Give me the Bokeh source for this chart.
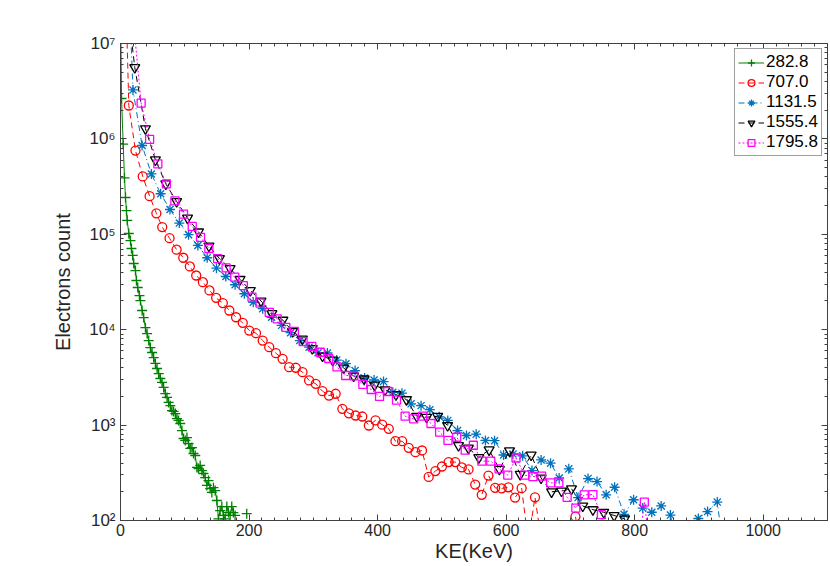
from bokeh.plotting import figure
from bokeh.models import FixedTicker, LinearAxis, LogAxis, Legend
from bokeh.embed import file_html
from bokeh.resources import INLINE

nan = float("nan")

# ---- data (keV, electron counts) ----
labels = ["282.8", "707.0", "1131.5", "1555.4", "1795.8"]

g_x = [0, 1.6, 4.2, 6.2, 7.8, 9.3, 10.4, 12.9, 15.5, 17.0, 19.0, 20.6, 23.3, 24.8, 26.8, 29.5, 31.0,
       33.6, 36.1, 38.8, 41.4, 43.9, 46.5, 49.1, 51.6, 54.3, 56.9, 59.4, 62.0, 64.6, 67.1, 69.8, 72.4,
       74.9, 77.5, 80.1, 82.6, 85.3, 87.9, 90.4, 93.0, 95.6, 98.1, 100.8, 103.4, 105.9, 108.5, 111.1,
       113.6, 116.3, 118.9, 121.4, 124.0, 126.6, 129.1, 131.8, 134.4, 136.9, 139.5, 142.1, 144.6, 147.3,
       149.9, 152.4, 155.0, 157.6, 160.1, 162.7, 165.4, 167.9, 170.5, 173.1, 175.6, 178.3, 180.8, 196.4]
g_y = [3e7, 2.65e6, 8.8e5, 3.9e5, 2.43e5, 1.77e5, 1.4e5, 1.02e5, 8.6e4, 7.1e4, 6.0e4, 4.94e4, 4.17e4,
       3.28e4, 2.77e4, 2.28e4, 2.02e4, 1.59e4, 1.34e4, 1.05e4, 9.1e3, 7.7e3, 6.5e3, 5.77e3, 5.1e3, 4.43e3,
       3.92e3, 3.47e3, 3.08e3, 2.8e3, 2.48e3, 2.14e3, 1.95e3, 1.73e3, 1.6e3, 1.42e3, 1.39e3, 1.32e3,
       1.17e3, 1.12e3, 1.04e3, 877, 724, 690, 740, 641, 569, 582, 504, 480, 360, 351, 378, 334, 311, 282,
       233, 262, 216, 197, 221, 206, 162, 104, 127, 140, 113, 104, 140, 121, 113, 140, 121, 113, nan, 118]

r_x = [2.6, 12.9, 23.3, 34.6, 45.3, 55.8, 64.9, 76.3, 87.3, 97.7, 107.9, 117.8, 128.2, 138.4, 148.8,
       159.2, 169.4, 179.8, 190.2, 200.4, 210.8, 221.2, 231.4, 241.8, 252.2, 262.4, 272.8, 283.2, 293.4,
       303.8, 314.2, 324.4, 334.8, 345.2, 355.4, 365.8, 376.2, 386.4, 396.8, 407.2, 417.4, 427.8, 438.2,
       448.5, 458.9, 469.1, 479.5, 489.9, 500.1, 510.5, 520.9, 531.1, 541.5, 551.9, 562.1, 572.5, 582.9,
       593.1, 603.5, 613.9, 624.1, 634.5, 644.9, 655.1, 665.5, 675.9, 686.1, 696.5, 707.9, 717.5]
r_y = [1e9, 2.24e6, 7.55e5, 4.04e5, 2.51e5, 1.66e5, 1.19e5, 9.1e4, 6.9e4, 5.68e4, 4.6e4, 3.7e4, 3.15e4,
       2.58e4, 2.16e4, 1.9e4, 1.59e4, 1.35e4, 1.18e4, 9.8e3, 9.2e3, 7.7e3, 6.56e3, 5.68e3, 4.95e3, 4.05e3,
       3.99e3, 3.59e3, 2.94e3, 2.71e3, 2.27e3, 2.04e3, 2.13e3, 1.48e3, 1.33e3, 1.26e3, 1.23e3, 990, 1.12e3,
       1.01e3, 914, 678, 678, 578, 520, 542, 286, 330, 368, 410, 410, 360, 343, 238, 186, 296, 220, 217,
       223, 174, 218, 60, 175, 60, 40, 40, 40, 60, 110, 40]

b_x = [4.9, 19.4, 33.6, 48.1, 62.5, 77.0, 91.5, 105.9, 120.4, 134.9, 149.3, 163.8, 178.3, 192.7, 206.6,
       221.2, 235.1, 250.6, 264.6, 279.0, 293.4, 307.4, 321.9, 336.4, 350.8, 365.0, 379.8, 394.5, 409.2,
       423.6, 437.9, 452.1, 467.6, 481.3, 496.0, 509.2, 524.4, 538.3, 553.4, 567.8, 582.0, 596.0, 610.7,
       625.7, 640.2, 654.4, 669.1, 682.5, 697.5, 711.9, 727.4, 741.4, 755.6, 768.8, 783.5, 798.3, 812.5,
       826.6, 841.2, 855.6, 870.0, 884.5, 899.0, 913.4, 928.5, 942.4]
b_y = [1e9, 3.26e6, 8.53e5, 4.29e5, 2.66e5, 1.82e5, 1.31e5, 9.9e4, 7.64e4, 5.68e4, 4.42e4, 3.61e4, 2.96e4,
       2.38e4, 1.94e4, 1.66e4, 1.35e4, 1.11e4, 9.3e3, 7.7e3, 6.56e3, 5.73e3, 5.7e3, 4.8e3, 4.4e3, 3.73e3,
       3.12e3, 2.97e3, 2.86e3, 2.21e3, 2.16e3, 1.67e3, 1.6e3, 1.45e3, 1.22e3, 1.12e3, 877, 778, 803, 690,
       686, 486, 498, 476, 334, 431, 399, 279, 348, 174, 275, 256, 186, 223, 116, 165, 135, 122, 142, 114,
       40, 40, 105, 124, 156, 30]

k_x = [5.7, 22.2, 38.8, 54.3, 70.5, 87.3, 104.3, 121.4, 137.6, 153.9, 170.5, 186.0, 202.0, 218.6, 235.6,
       252.7, 267.7, 282.9, 298.4, 314.3, 330.2, 347.2, 362.7, 379.0, 395.3, 411.5, 428.6, 444.9, 460.8,
       476.3, 493.4, 508.9, 525.9, 541.4, 557.5, 573.5, 589.5, 605.3, 621.9, 638.9, 654.4, 670.7, 686.2,
       701.7, 719.2, 735.0, 751.8, 768.0, 784.3, 800.5]
k_y = [5e7, 5.6e6, 1.28e6, 6.04e5, 3.38e5, 2.21e5, 1.48e5, 1.06e5, 7.54e4, 5.57e4, 4.38e4, 3.37e4, 2.58e4,
       2.0e4, 1.48e4, 1.26e4, 9.6e3, 8.0e3, 6.35e3, 5.3e3, 4.8e3, 3.97e3, 3.27e3, 3.05e3, 2.63e3, 2.34e3,
       2.09e3, 1.85e3, 1.24e3, 1.21e3, 1.24e3, 990, 611, 575, 457, 551, 345, 538, 305, 486, 279, 200, 204,
       215, 142, 130, 122, 113, 104, 30]

m_x = [18.6, 32.1, 45.3, 58.1, 71.3, 84.6, 98.1, 111.6, 124.5, 137.5, 151.1, 164.3, 177.8, 191.1, 204.6,
       217.0, 231.4, 243.8, 257.3, 270.5, 284.1, 297.6, 310.8, 324.0, 336.8, 350.3, 363.0, 377.1, 390.1,
       403.0, 415.9, 429.4, 442.8, 456.2, 470.1, 483.1, 496.5, 509.5, 523.1, 536.3, 549.0, 562.2, 576.1,
       589.0, 602.5, 615.4, 629.0, 641.7, 655.2, 669.1, 682.0, 694.9, 708.4, 721.5, 735.0, 748.2, 761.5,
       775.0, 788.5, 801.8, 815.0, 828.5]
m_y = [2.2e7, 2.37e6, 9.9e5, 5.48e5, 3.38e5, 2.24e5, 1.63e5, 1.21e5, 9.3e4, 7.1e4, 5.57e4, 4.44e4, 3.55e4,
       2.9e4, 2.19e4, 1.9e4, 1.52e4, 1.3e4, 1.06e4, 9.6e3, 7.5e3, 6.7e3, 5.8e3, 4.99e3, 4.08e3, 3.31e3,
       3.29e3, 2.67e3, 2.36e3, 2.0e3, 2.25e3, 1.83e3, 1.24e3, 1.16e3, 1.24e3, 1.04e3, 843, 690, 746, 546,
       615, 419, 419, 348, 299, 452, 299, 289, 292, 248, 248, 175, 135, 186, 187, 115, 30, 30, 30, 30,
       156, 30]

x_ticks = [0, 200, 400, 600, 800, 1000]
y_ticks = [1e2, 1e3, 1e4, 1e5, 1e6, 1e7]
y_tick_labels = ["10²", "10³", "10⁴", "10⁵", "10⁶", "10⁷"]

# ---- figure ----
FONT = "Liberation Sans"
TXT = "#262626"
AX = "#404040"

p = figure(width=830, height=566, y_axis_type="log", x_range=(0, 1100), y_range=(1e2, 1e7),
           output_backend="svg", toolbar_location=None,
           min_border_left=120, min_border_right=3, min_border_top=43, min_border_bottom=46)
p.grid.visible = False
p.outline_line_color = AX
p.outline_line_width = 1
p.background_fill_color = "white"
p.border_fill_color = "white"

x_minor = [v for v in range(0, 1101, 20)]
y_minor = [m * 10 ** e for e in range(2, 7) for m in range(1, 10)] + [1e7]
xt = FixedTicker(ticks=x_ticks, minor_ticks=x_minor)
yt = FixedTicker(ticks=y_ticks, minor_ticks=y_minor)


def style_axis(ax, ticker):
    ax.ticker = ticker
    ax.axis_line_color = AX
    ax.major_tick_line_color = AX
    ax.minor_tick_line_color = AX
    ax.major_tick_in = 6
    ax.major_tick_out = 0
    ax.minor_tick_in = 3
    ax.minor_tick_out = 0
    ax.major_label_text_font = FONT
    ax.major_label_text_color = TXT
    ax.major_label_text_font_size = "16px"
    ax.axis_label_text_font = FONT
    ax.axis_label_text_font_style = "normal"
    ax.axis_label_text_color = TXT
    ax.axis_label_text_font_size = "20px"


style_axis(p.xaxis[0], xt)
style_axis(p.yaxis[0], yt)
p.xaxis[0].axis_label = "KE(KeV)"
p.xaxis[0].major_label_standoff = 3
p.xaxis[0].axis_label_standoff = 1
p.yaxis[0].axis_label = "Electrons count"
p.yaxis[0].major_label_standoff = 5
p.yaxis[0].axis_label_standoff = 12
p.yaxis[0].major_label_text_font_size = "17px"
p.yaxis[0].major_label_overrides = {t: s for t, s in zip(y_ticks, y_tick_labels)}

top = LinearAxis()
style_axis(top, xt)
top.major_label_overrides = {t: "" for t in x_ticks}
top.major_label_standoff = 0
p.add_layout(top, "above")

right = LogAxis()
style_axis(right, yt)
right.major_label_overrides = {t: "" for t in y_ticks}
right.major_label_standoff = 0
p.add_layout(right, "right")

series = [
    (g_x, g_y, "#008000", "solid", "cross", 10),
    (r_x, r_y, "#FF0000", "6 4", "circle", 9),
    (b_x, b_y, "#0072BD", "6 3 1 3", "asterisk", 10),
    (k_x, k_y, "#000000", "6 4", "inverted_triangle", 10),
    (m_x, m_y, "#FF00FF", "2 2", "square", 8),
]

items = []
for (xs, ys, col, dash, mk, sz), lab in zip(series, labels):
    ln = p.line(xs, ys, line_color=col, line_width=1, line_dash=dash)
    sc = p.scatter(xs, ys, marker=mk, size=sz, line_color=col, line_width=1.3, fill_color=None)
    items.append((lab, [ln, sc]))

legend = Legend(items=items, location="top_right")
legend.margin = 5
legend.padding = 3
legend.spacing = -1
legend.glyph_width = 26
legend.glyph_height = 17
legend.label_height = 17
legend.label_standoff = 2
legend.label_text_font = FONT
legend.label_text_font_size = "17px"
legend.label_text_color = "#000000"
legend.border_line_color = AX
legend.border_line_width = 1
legend.background_fill_color = "white"
legend.background_fill_alpha = 1
p.add_layout(legend, "center")

open("out.html", "w").write(file_html(p, INLINE))
